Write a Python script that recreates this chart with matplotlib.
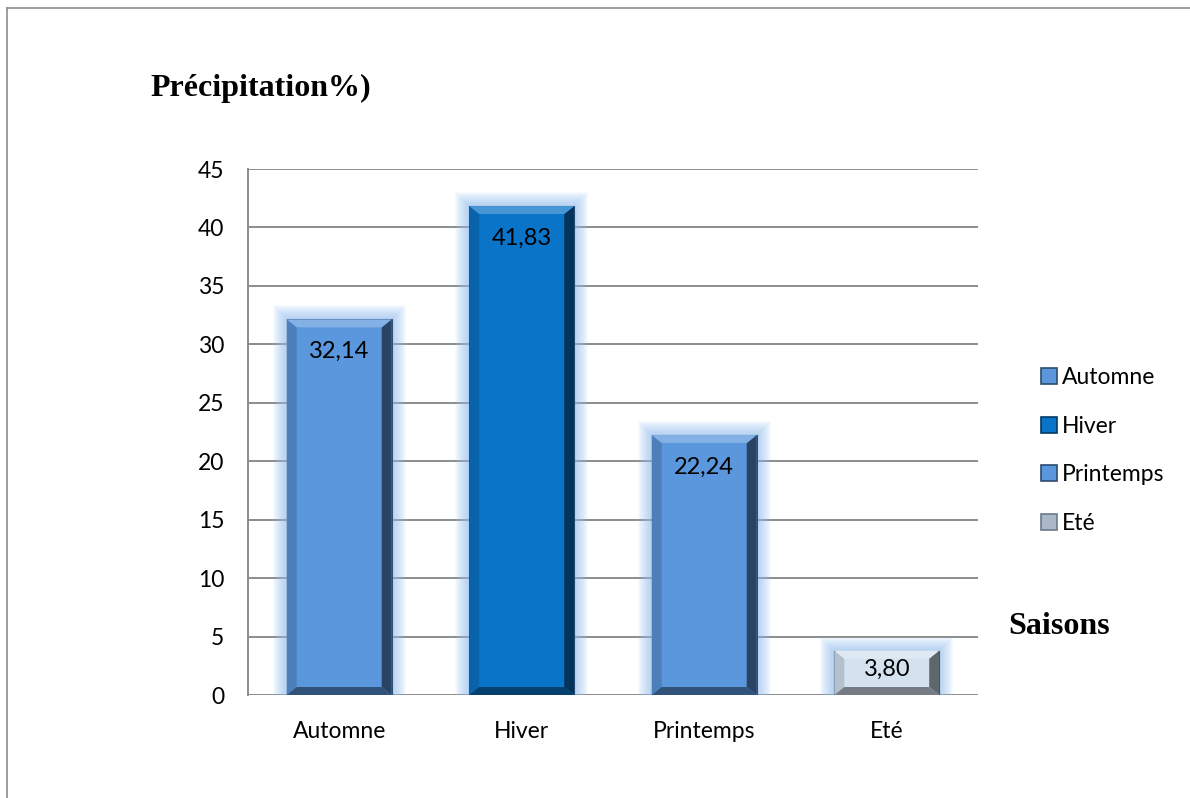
import matplotlib
matplotlib.use("Agg")
import matplotlib.pyplot as plt
import matplotlib.patches as patches
from matplotlib.lines import Line2D
import matplotlib.colors as mcolors

# Répartition saisonnière des précipitations (%)
saisons = ["Automne", "Hiver", "Printemps", "Eté"]
valeurs = [32.14, 41.83, 22.24, 3.80]
etiquettes = ["32,14", "41,83", "22,24", "3,80"]
couleurs = ["#5b97dc", "#0a74c9", "#5b97dc", "#d4e2f0"]

plt.rcParams["font.family"] = ["Lato", "DejaVu Sans"]

fig = plt.figure(figsize=(11.9, 7.98), dpi=100)
ax = fig.add_axes([248 / 1190, 1 - 695 / 798, 730 / 1190, 526 / 798])

ax.set_xlim(-0.5, len(saisons) - 0.5)
ax.set_ylim(0, 45)
ax.set_yticks(range(0, 46, 5))
ax.set_xticks(range(len(saisons)))
ax.set_xticklabels(saisons)
ax.tick_params(axis="both", length=0, labelsize=16.5, colors="black")
ax.tick_params(axis="x", pad=19)
ax.tick_params(axis="y", pad=17)
ax.yaxis.grid(True, color="#8c8c8c", linewidth=1.4)
ax.set_axisbelow(True)
for s in ["top", "right", "bottom"]:
    ax.spines[s].set_visible(False)
ax.spines["left"].set_color("#8c8c8c")
ax.spines["left"].set_linewidth(1.4)
ax.axhline(0, color="#8c8c8c", linewidth=1.4, zorder=1)

# conversions pixels -> unités de données
px_x = 1 / 182.5
px_y = 45 / 526
largeur = 0.575


def nuance(c, f):
    r, g, b = mcolors.to_rgb(c)
    if f >= 1:
        return (r + (1 - r) * (f - 1), g + (1 - g) * (f - 1), b + (1 - b) * (f - 1))
    return (r * f, g * f, b * f)


for i, (v, c) in enumerate(zip(valeurs, couleurs)):
    x0 = i - largeur / 2
    x1 = i + largeur / 2
    # halo lumineux
    for k in range(1, 15):
        ax.add_patch(patches.Rectangle((x0 - k * px_x, 0), largeur + 2 * k * px_x, v + k * px_y,
                                       facecolor="#94bff2", edgecolor="none",
                                       alpha=0.065, zorder=2))
    ax.bar(i, v, width=largeur, color=c, edgecolor="#2a4f78", linewidth=0.8, zorder=3)
    # biseaux
    bx = 10 * px_x
    by = 8 * px_y
    haut = [(x0, v), (x1, v), (x1 - bx, v - by), (x0 + bx, v - by)]
    bas = [(x0, 0), (x1, 0), (x1 - bx, by), (x0 + bx, by)]
    gauche = [(x0, 0), (x0, v), (x0 + bx, v - by), (x0 + bx, by)]
    droite = [(x1, 0), (x1, v), (x1 - bx, v - by), (x1 - bx, by)]
    for pts, f in [(gauche, 0.85), (droite, 0.45), (bas, 0.55), (haut, 1.25)]:
        ax.add_patch(patches.Polygon(pts, closed=True, facecolor=nuance(c, f),
                                     edgecolor="none", zorder=4))

    # étiquette à l'intérieur du haut de la barre (en pixels)
    decal = min(32, v / px_y / 2 - 3)
    ax.annotate(etiquettes[i], (i, v), xytext=(0, -decal * 0.72), textcoords="offset points",
                ha="center", va="center", fontsize=17, zorder=6)

# légende
poignees = [patches.Patch(facecolor=c, edgecolor=nuance(c, 0.5), linewidth=1.2) for c in couleurs]
poignees[3] = patches.Patch(facecolor="#aab8c8", edgecolor="#6b7a8a", linewidth=1.2)
fig.legend(poignees, saisons, loc="upper left", bbox_to_anchor=(1032 / 1190, 1 - 358 / 798),
           frameon=False, fontsize=16.5, handlelength=0.7, handleheight=0.7,
           handletextpad=0.2, labelspacing=1.2, borderaxespad=0)

fig.text(150 / 1190, 1 - 88 / 798, "Précipitation%)", fontsize=23, fontweight="bold",
         family="Liberation Serif", va="center", ha="left")
fig.text(1008 / 1190, 1 - 627 / 798, "Saisons", fontsize=23, fontweight="bold",
         family="Liberation Serif", va="center", ha="left")

# cadre extérieur
fig.add_artist(Line2D([7 / 1190, 7 / 1190], [0, 1 - 8 / 798], color="#8c8c8c", linewidth=1.2))
fig.add_artist(Line2D([7 / 1190, 1], [1 - 8 / 798, 1 - 8 / 798], color="#8c8c8c", linewidth=1.2))

fig.savefig("out.png", dpi=100)
